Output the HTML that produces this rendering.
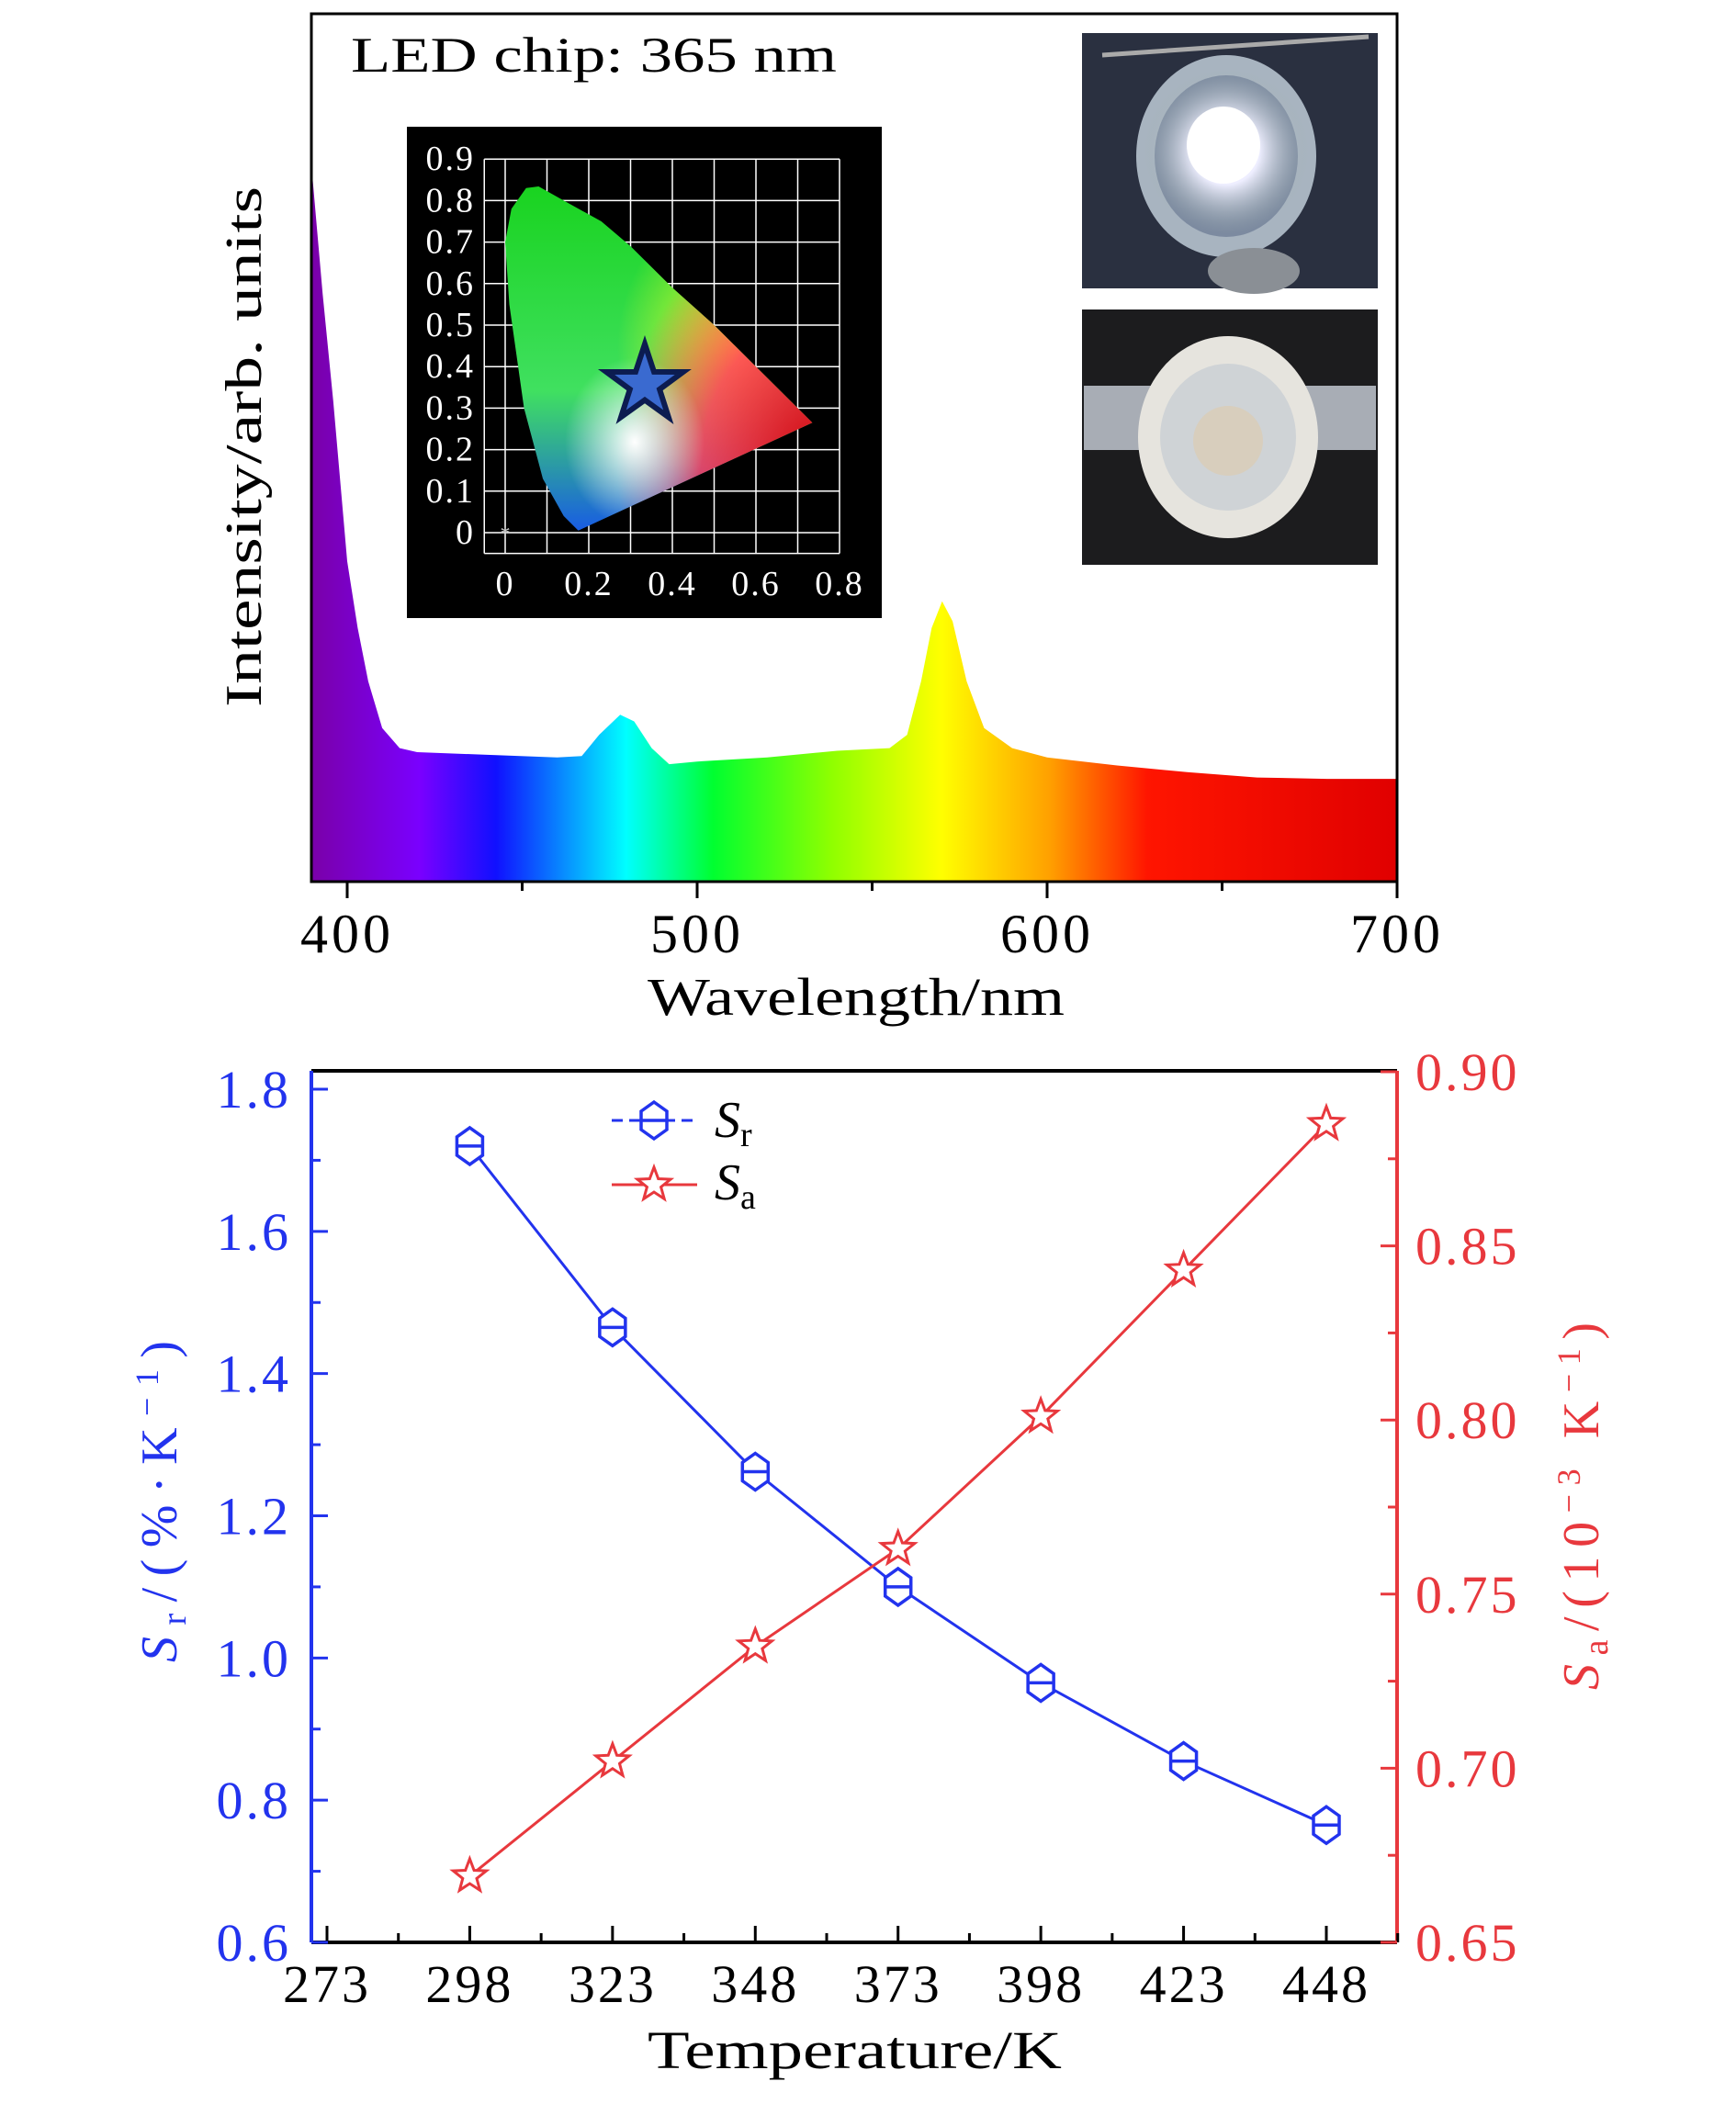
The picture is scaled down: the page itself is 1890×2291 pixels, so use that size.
<!DOCTYPE html>
<html><head><meta charset="utf-8"><style>
html,body{margin:0;padding:0;background:#fff}
svg{display:block;font-family:"Liberation Serif",serif}
</style></head><body>
<svg id="fig" width="1890" height="2291" viewBox="0 0 1890 2291" xmlns="http://www.w3.org/2000/svg">
<defs>
<linearGradient id="spec" x1="339" x2="1521" y1="0" y2="0" gradientUnits="userSpaceOnUse">
<stop offset="0" stop-color="#7a00a8"/><stop offset="0.1" stop-color="#7a00ff"/>
<stop offset="0.17" stop-color="#1010ff"/><stop offset="0.29" stop-color="#00ffff"/>
<stop offset="0.37" stop-color="#00ff30"/><stop offset="0.48" stop-color="#90ff00"/>
<stop offset="0.58" stop-color="#ffff00"/><stop offset="0.68" stop-color="#ffa000"/>
<stop offset="0.77" stop-color="#ff1500"/><stop offset="1" stop-color="#e00000"/>
</linearGradient>
<clipPath id="cieclip"><path id="ciepathclip"/></clipPath>
<linearGradient id="cieg" x1="0" y1="0" x2="0" y2="1"><stop offset="0" stop-color="#10d010"/><stop offset="0.6" stop-color="#40e060"/><stop offset="1" stop-color="#1040ff"/></linearGradient>
<radialGradient id="ciered" cx="1" cy="0.78" r="0.6"><stop offset="0" stop-color="#d00000"/><stop offset="0.6" stop-color="#ff3060" stop-opacity="0.8"/><stop offset="1" stop-color="#ff3060" stop-opacity="0"/></radialGradient>
<radialGradient id="cieyel" cx="0.75" cy="0.5" r="0.35"><stop offset="0" stop-color="#ffff20"/><stop offset="1" stop-color="#ffff20" stop-opacity="0"/></radialGradient>
<radialGradient id="ciewhite" cx="0.45" cy="0.72" r="0.2"><stop offset="0" stop-color="#ffffff"/><stop offset="1" stop-color="#ffffff" stop-opacity="0"/></radialGradient>
<radialGradient id="glow" cx="0.5" cy="0.5" r="0.5"><stop offset="0" stop-color="#fff"/><stop offset="0.4" stop-color="#eef"/><stop offset="1" stop-color="#9aa" stop-opacity="0"/></radialGradient>
</defs>

<!-- TOP PANEL -->
<g id="top">
  <path id="specArea" fill="url(#spec)"/>
  <rect x="339" y="15" width="1182" height="945" fill="none" stroke="#000" stroke-width="3"/>
  <g id="topTicks"></g>
  <text x="382" y="78" font-size="54" textLength="529" lengthAdjust="spacingAndGlyphs">LED chip: 365 nm</text>
  <text x="705" y="1105" font-size="58" textLength="454" lengthAdjust="spacingAndGlyphs">Wavelength/nm</text>
  <text transform="translate(284,770) rotate(-90)" font-size="56" textLength="567" lengthAdjust="spacingAndGlyphs">Intensity/arb. units</text>

  <g id="cie">
    <rect x="443" y="138" width="517" height="535" fill="#000"/>
    <g id="cieGrid"></g>
    <g clip-path="url(#cieclip)">
      <rect x="520" y="150" width="380" height="460" fill="url(#cieg)"/>
      <rect x="520" y="150" width="380" height="460" fill="url(#cieyel)"/>
      <rect x="520" y="150" width="380" height="460" fill="url(#ciered)"/>
      <rect x="520" y="150" width="380" height="460" fill="url(#ciewhite)"/>
    </g>
    <path id="ciestar" fill="#3a6ad0" stroke="#0c1c50" stroke-width="6"/>
    <text x="550" y="588" fill="#ccc" font-size="22" text-anchor="middle">*</text>
  </g>

  <g>
    <rect x="1178" y="36" width="322" height="278" fill="#2a3040"/>
    <ellipse cx="1335" cy="170" rx="98" ry="110" fill="#a8b4c0"/>
    <ellipse cx="1335" cy="170" rx="78" ry="88" fill="#7c8aa0"/>
    <ellipse cx="1335" cy="165" rx="90" ry="90" fill="url(#glow)"/>
    <ellipse cx="1332" cy="158" rx="40" ry="42" fill="#fff"/>
    <line x1="1200" y1="60" x2="1490" y2="40" stroke="#aaa" stroke-width="5"/>
    <ellipse cx="1365" cy="295" rx="50" ry="25" fill="#8a8f95"/>
  </g>
  <g>
    <rect x="1178" y="337" width="322" height="278" fill="#1c1c1e"/>
    <rect x="1180" y="420" width="318" height="70" fill="#a8adb5"/>
    <ellipse cx="1337" cy="476" rx="98" ry="110" fill="#e6e4de"/>
    <ellipse cx="1337" cy="476" rx="74" ry="80" fill="#cfd3d6"/>
    <circle cx="1337" cy="480" r="38" fill="#d8cebd"/>
  </g>
</g>

<!-- BOTTOM PANEL -->
<g id="bottom">
  <line x1="339" y1="1166" x2="1521" y2="1166" stroke="#000" stroke-width="4"/>
  <line x1="339" y1="2115" x2="1521" y2="2115" stroke="#000" stroke-width="4"/>
  <line x1="339" y1="1166" x2="339" y2="2115" stroke="#2233ee" stroke-width="4"/>
  <line x1="1521" y1="1166" x2="1521" y2="2115" stroke="#e8383d" stroke-width="4"/>
  <g id="botAxes"></g>
  <g id="series"></g>
  <text x="705" y="2252" font-size="58" textLength="451" lengthAdjust="spacingAndGlyphs">Temperature/K</text>
  <text transform="translate(192,1810) rotate(-90)" font-size="56" fill="#2233ee" textLength="350" lengthAdjust="spacing"><tspan font-style="italic">S</tspan><tspan font-size="38" dy="10">r</tspan><tspan dy="-10">/(%·K</tspan><tspan font-size="36" dy="-20">−1</tspan><tspan dy="20">)</tspan></text>
  <text transform="translate(1740,1840) rotate(-90)" font-size="56" fill="#e8383d" textLength="400" lengthAdjust="spacing"><tspan font-style="italic">S</tspan><tspan font-size="38" dy="10">a</tspan><tspan dy="-10">/(10</tspan><tspan font-size="36" dy="-20">−3</tspan><tspan dy="20"> K</tspan><tspan font-size="36" dy="-20">−1</tspan><tspan dy="20">)</tspan></text>
  <g>
    <g id="legSr">
      <line x1="666" y1="1220" x2="759" y2="1220" stroke="#2233ee" stroke-width="3" stroke-dasharray="12,7"/>
      <text x="778" y="1238" font-size="56" font-style="italic" fill="#000">S<tspan font-style="normal" font-size="38" dy="10">r</tspan></text>
    </g>
    <g id="legSa">
      <line x1="666" y1="1290" x2="759" y2="1290" stroke="#e8383d" stroke-width="3"/>
      <text x="778" y="1306" font-size="56" font-style="italic" fill="#000">S<tspan font-style="normal" font-size="38" dy="10">a</tspan></text>
    </g>
  </g>
</g>

<script>
// ---- spectrum data ----
const wavelengths=[390,393,396,400,403,406,410,415,420,440,460,467,472,478,482,487,492,500,520,540,555,560,564,567,570,573,577,582,590,600,620,640,660,680,700];
const intensity=[530,440,360,240,190,150,115,100,97,95,93,94,110,125,120,100,88,90,93,98,100,110,150,190,210,195,150,115,100,93,87,82,78,77,77];
const wlTicks=[400,500,600,700];
const wlMinor=[450,550,650];
// ---- CIE data ----
const cieLocusX=[0.175,0.14,0.09,0.045,0.01,0.0,0.015,0.05,0.08,0.14,0.23,0.3,0.4,0.5,0.6,0.735];
const cieLocusY=[0.005,0.04,0.13,0.3,0.55,0.7,0.78,0.83,0.834,0.80,0.75,0.69,0.59,0.5,0.4,0.265];
const ciePoint=[0.334,0.357];
const cieXTicks=["0","0.2","0.4","0.6","0.8"];
const cieYTicks=["0","0.1","0.2","0.3","0.4","0.5","0.6","0.7","0.8","0.9"];
// ---- sensitivity data ----
const temps=[298,323,348,373,398,423,448];
const srValues=[1.72,1.465,1.262,1.1,0.965,0.855,0.765];
const saValues=[0.669,0.702,0.735,0.763,0.801,0.843,0.885];
const tempTicks=[273,298,323,348,373,398,423,448];
const srTicks=["0.6","0.8","1.0","1.2","1.4","1.6","1.8"];
const saTicks=["0.65","0.70","0.75","0.80","0.85","0.90"];

const NS="http://www.w3.org/2000/svg";
function mk(tag,attrs,parent){const e=document.createElementNS(NS,tag);for(const k in attrs)e.setAttribute(k,attrs[k]);parent.appendChild(e);return e;}

// top axes
const wx=w=>378+(w-400)*(1521-378)/300;
const iy=v=>960-v*1.4538;
let d="M"+wx(390)+",960";
wavelengths.forEach((w,i)=>{d+=" L"+wx(w).toFixed(1)+","+iy(intensity[i]).toFixed(1);});
d+=" L"+wx(700)+",960 Z";
document.getElementById('specArea').setAttribute('d',d);
const tt=document.getElementById('topTicks');
wlTicks.forEach(w=>{
  const l=mk('line',{x1:wx(w),x2:wx(w),y1:960,y2:978,stroke:'#000','stroke-width':3},tt);
  
  
  const t=mk('text',{x:wx(w),y:1037,'font-size':60,'letter-spacing':4,'text-anchor':'middle'},tt);
  t.textContent=w;
  
  
});
wlMinor.forEach(w=>{
  const l=mk('line',{x1:wx(w),x2:wx(w),y1:960,y2:970,stroke:'#000','stroke-width':3},tt);
  
  
});

// CIE
const cx=x=>550+x*455;
const cy=y=>580-y*452;
const g=document.getElementById('cieGrid');
for(let i=0;i<=8;i++){mk('line',{x1:cx(i*0.1),x2:cx(i*0.1),y1:cy(0.9),y2:cy(-0.05),stroke:'#fff','stroke-width':1.5},g);}
mk('line',{x1:cx(-0.05),x2:cx(-0.05),y1:cy(0.9),y2:cy(-0.05),stroke:'#fff','stroke-width':1.5},g);
for(let i=0;i<=9;i++){mk('line',{x1:cx(-0.05),x2:cx(0.8),y1:cy(i*0.1),y2:cy(i*0.1),stroke:'#fff','stroke-width':1.5},g);}
mk('line',{x1:cx(-0.05),x2:cx(0.8),y1:cy(-0.05),y2:cy(-0.05),stroke:'#fff','stroke-width':1.5},g);
cieXTicks.forEach(s=>{const t=mk('text',{x:cx(+s),y:648,'font-size':38,'letter-spacing':2,fill:'#fff','text-anchor':'middle'},g);t.textContent=s;
  
  });
cieYTicks.forEach(s=>{const t=mk('text',{x:517,y:cy(+s)+12,'font-size':38,'letter-spacing':2,fill:'#fff','text-anchor':'end'},g);t.textContent=s;
  
  });
let cp="";
cieLocusX.forEach((x,i)=>{cp+=(i?" L":"M")+cx(x).toFixed(1)+","+cy(cieLocusY[i]).toFixed(1);});
cp+=" Z";
document.getElementById('ciepathclip').setAttribute('d',cp);
function starPath(x,y,R,r){let s="";for(let i=0;i<10;i++){const a=-Math.PI/2+i*Math.PI/5;const rr=i%2?r:R;s+=(i?"L":"M")+(x+rr*Math.cos(a)).toFixed(1)+","+(y+rr*Math.sin(a)).toFixed(1);}return s+"Z";}
document.getElementById('ciestar').setAttribute('d',starPath(cx(ciePoint[0]),cy(ciePoint[1]),44,17));

// bottom
const tx=t=>356+(t-273)*(1444-356)/175;
const sry=v=>2115-(v-0.6)*(2115-1186)/1.2;
const say=v=>2115-(v-0.65)*(2115-1167)/0.25;
const ba=document.getElementById('botAxes');
tempTicks.forEach(t=>{
  const l=mk('line',{x1:tx(t),x2:tx(t),y1:2115,y2:2097,stroke:'#000','stroke-width':3},ba);
  
  
  const m=mk('line',{x1:tx(t+12.5),x2:tx(t+12.5),y1:2115,y2:2105,stroke:'#000','stroke-width':3},ba);
  
  
  const s=mk('text',{x:tx(t),y:2180,'font-size':58,'letter-spacing':3,'text-anchor':'middle'},ba);s.textContent=t;
  
  
});
srTicks.forEach(v=>{
  const y=sry(+v);
  const l=mk('line',{x1:339,x2:357,y1:y,y2:y,stroke:'#2233ee','stroke-width':3},ba);
  
  
  if(+v<1.8){const m=mk('line',{x1:339,x2:349,y1:sry(+v+0.1),y2:sry(+v+0.1),stroke:'#2233ee','stroke-width':3},ba);
  
  }
  const s=mk('text',{x:317,y:y+20,'font-size':58,'letter-spacing':3,fill:'#2233ee','text-anchor':'end'},ba);s.textContent=v;
  
  
});
saTicks.forEach(v=>{
  const y=say(+v);
  const l=mk('line',{x1:1503,x2:1521,y1:y,y2:y,stroke:'#e8383d','stroke-width':3},ba);
  
  
  if(+v<0.9){const m=mk('line',{x1:1511,x2:1521,y1:say(+v+0.025),y2:say(+v+0.025),stroke:'#e8383d','stroke-width':3},ba);
  
  }
  const s=mk('text',{x:1541,y:y+20,'font-size':58,'letter-spacing':3,fill:'#e8383d'},ba);s.textContent=v;
  
  
});
const se=document.getElementById('series');
function hexPath(x,y){const w=14,h=20;return `M${x},${y-h} L${x+w},${y-h/2} L${x+w},${y+h/2} L${x},${y+h} L${x-w},${y+h/2} L${x-w},${y-h/2} Z M${x-w},${y} L${x+w},${y}`;}
const srLine=mk('polyline',{points:temps.map((t,i)=>tx(t)+","+sry(srValues[i])).join(" "),fill:'none',stroke:'#2233ee','stroke-width':3},se);


const saLine=mk('polyline',{points:temps.map((t,i)=>tx(t)+","+say(saValues[i])).join(" "),fill:'none',stroke:'#e8383d','stroke-width':3},se);


temps.forEach((t,i)=>{
  const h=mk('path',{d:hexPath(tx(t),sry(srValues[i])),fill:'#fff',stroke:'#2233ee','stroke-width':3.5},se);
  
  
  const s=mk('path',{d:starPath(tx(t),say(saValues[i]),19,8),fill:'#fff',stroke:'#e8383d','stroke-width':3},se);
  
  
});
// legend markers
const lh=mk('path',{d:hexPath(712,1220),fill:'#fff',stroke:'#2233ee','stroke-width':3.5},document.getElementById('legSr'));


const ls=mk('path',{d:starPath(712,1290,19,8),fill:'#fff',stroke:'#e8383d','stroke-width':3},document.getElementById('legSa'));


</script>
</svg>
</body></html>
